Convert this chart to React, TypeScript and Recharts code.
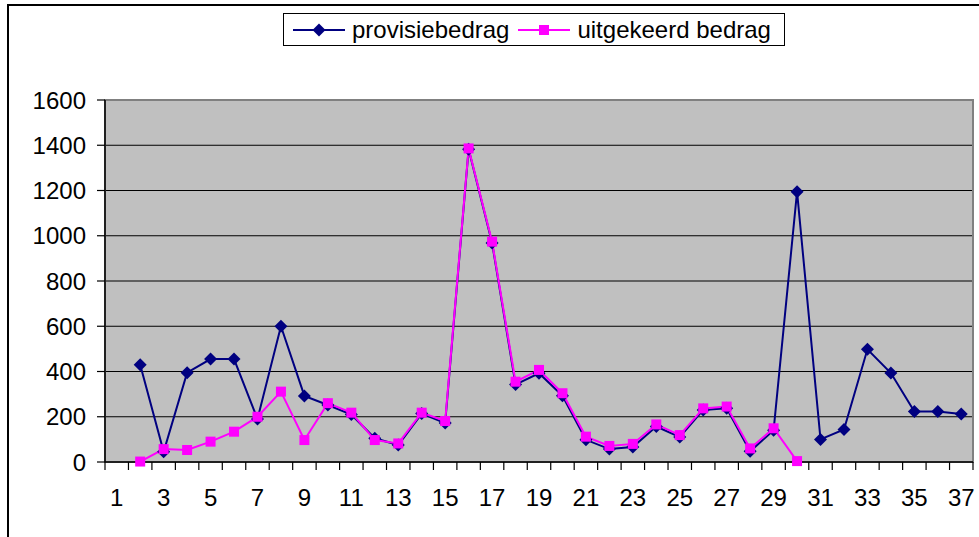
import React from "react";
import {
  CartesianGrid,
  Line,
  LineChart,
  ReferenceArea,
  XAxis,
  YAxis,
} from "recharts";

// x categories 1..37
const CATEGORIES = [
  "1", "2", "3", "4", "5", "6", "7", "8", "9", "10",
  "11", "12", "13", "14", "15", "16", "17", "18", "19", "20",
  "21", "22", "23", "24", "25", "26", "27", "28", "29", "30",
  "31", "32", "33", "34", "35", "36", "37",
];

const PROVISIE = [
  null, 430, 45, 395, 455, 455, 190, 600, 292, 252,
  210, 105, 75, 214, 172, 1382, 968, 342, 392, 293,
  98, 57, 66, 157, 110, 230, 238, 47, 140, 1195,
  100, 144, 498, 393, 223, 223, 212,
];

const UITGEKEERD = [
  null, 2, 57, 53, 90, 134, 200, 311, 97, 260,
  218, 97, 82, 218, 181, 1386, 974, 355, 407, 304,
  112, 71, 80, 166, 119, 237, 245, 60, 149, 4,
  null, null, null, null, null, null, null,
];

const Y_TICKS = [0, 200, 400, 600, 800, 1000, 1200, 1400, 1600];

const SERIES = [
  { key: "provisiebedrag", values: PROVISIE, color: "#000080", marker: "diamond" },
  { key: "uitgekeerd bedrag", values: UITGEKEERD, color: "#FF00FF", marker: "square" },
];

const data = CATEGORIES.map((c, i) => ({
  cat: c,
  provisiebedrag: PROVISIE[i],
  "uitgekeerd bedrag": UITGEKEERD[i],
}));

const FONT = '"Liberation Sans", Arial, sans-serif';
const W = 979;
const H = 537;
const MARGIN = { top: 100, right: 6, bottom: 15, left: 0 };
const Y_AXIS_W = 105;
const X_AXIS_H = 60;
const PLOT_W = W - MARGIN.left - MARGIN.right - Y_AXIS_W;
const BAND = PLOT_W / CATEGORIES.length;

function Marker({ type, cx, cy, color }: { type: string; cx: number; cy: number; color: string }) {
  if (type === "diamond") {
    const r = 6.5;
    return (
      <path
        d={`M${cx},${cy - r}L${cx + r},${cy}L${cx},${cy + r}L${cx - r},${cy}Z`}
        fill={color}
      />
    );
  }
  return <rect x={cx - 5} y={cy - 5} width={10} height={10} fill={color} />;
}

function makeDot(type: string, color: string) {
  return (props: any) => {
    const { cx, cy, index, value } = props;
    if (value == null || cy == null || Number.isNaN(cy)) return <g key={`e-${index}`} />;
    return (
      <g key={`d-${index}`}>
        <Marker type={type} cx={cx} cy={cy} color={color} />
      </g>
    );
  };
}

function XTick(props: any) {
  const { x, y, payload, index } = props;
  const n = Number(payload.value);
  const left = x - BAND / 2;
  const right = x + BAND / 2;
  return (
    <g>
      <line x1={left} y1={y} x2={left} y2={y + 8} stroke="#000" strokeWidth={1.2} />
      {index === CATEGORIES.length - 1 && (
        <line x1={right} y1={y} x2={right} y2={y + 8} stroke="#000" strokeWidth={1.2} />
      )}
      {n % 2 === 1 && (
        <text x={x} y={y + 44} textAnchor="middle" fontSize={24} fontFamily={FONT} fill="#000">
          {payload.value}
        </text>
      )}
    </g>
  );
}

function LegendBox() {
  return (
    <div
      style={{
        position: "absolute",
        left: 283,
        top: 13,
        width: 500,
        height: 31,
        border: "1px solid #000",
        background: "#fff",
        display: "flex",
        alignItems: "center",
        fontFamily: FONT,
        fontSize: 24,
        color: "#000",
        boxSizing: "content-box",
      }}
    >
      {SERIES.map((s, i) => (
        <div
          key={s.key}
          style={{ display: "flex", alignItems: "center", marginLeft: i === 0 ? 9 : 9 }}
        >
          <svg width={52} height={20} style={{ display: "block" }}>
            <line x1={0} y1={10} x2={52} y2={10} stroke={s.color} strokeWidth={2} />
            <Marker type={s.marker} cx={26} cy={10} color={s.color} />
          </svg>
          <span style={{ marginLeft: 7, lineHeight: "24px" }}>{s.key}</span>
        </div>
      ))}
    </div>
  );
}

export default function App() {
  return (
    <div
      style={{
        position: "absolute",
        left: 0,
        top: 0,
        width: W,
        height: H,
        overflow: "hidden",
        background: "#fff",
      }}
    >
      <div
        style={{
          position: "absolute",
          left: 7,
          top: 4,
          width: 1200,
          height: 800,
          border: "2px solid #000",
        }}
      />
      <div style={{ position: "absolute", left: 0, top: 0 }}>
        <LineChart width={W} height={H} data={data} margin={MARGIN}>
          <CartesianGrid vertical={false} stroke="#000" fill="#C0C0C0" fillOpacity={1} />
          <ReferenceArea
            y1={0}
            y2={1600}
            fill="none"
            stroke="#808080"
            strokeWidth={2}
            ifOverflow="visible"
          />
          <XAxis
            dataKey="cat"
            scale="band"
            interval={0}
            height={X_AXIS_H}
            tickLine={false}
            tickSize={0}
            tickMargin={0}
            axisLine={{ stroke: "#000", strokeWidth: 1.5 }}
            tick={<XTick />}
          />
          <YAxis
            width={Y_AXIS_W}
            domain={[0, 1600]}
            ticks={Y_TICKS}
            interval={0}
            tickSize={8}
            tickMargin={11}
            axisLine={{ stroke: "#000", strokeWidth: 1.5 }}
            tickLine={{ stroke: "#000", strokeWidth: 1.2 }}
            tick={{ fontSize: 24, fontFamily: FONT, fill: "#000" }}
          />
          {SERIES.map((s) => (
            <Line
              key={s.key}
              type="linear"
              dataKey={s.key}
              stroke={s.color}
              strokeWidth={2}
              dot={makeDot(s.marker, s.color)}
              activeDot={false}
              isAnimationActive={false}
            />
          ))}
        </LineChart>
      </div>
      <LegendBox />
    </div>
  );
}
